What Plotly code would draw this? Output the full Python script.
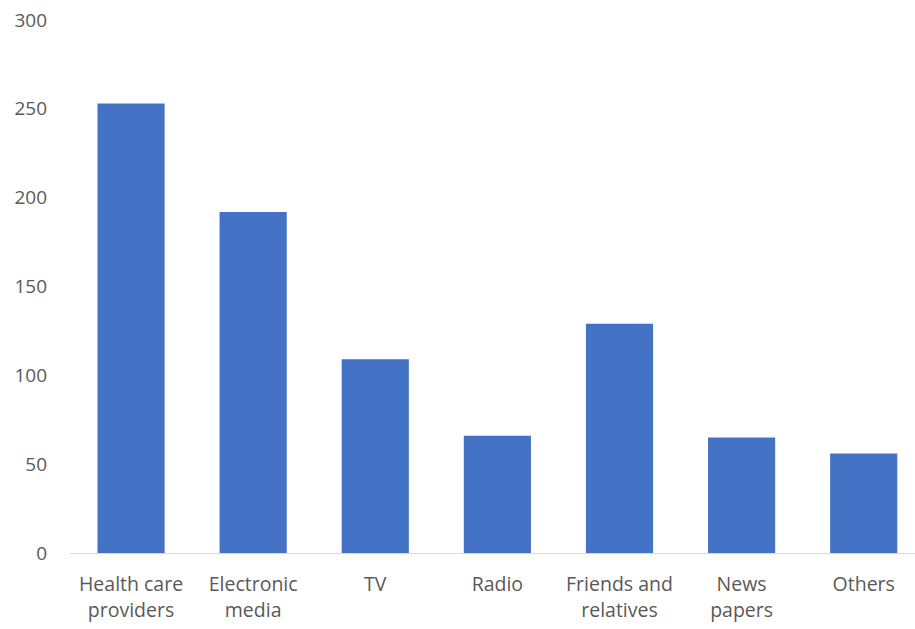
import plotly.graph_objects as go

categories = ["Health care<br>providers", "Electronic<br>media", "TV", "Radio",
              "Friends and<br>relatives", "News<br>papers", "Others"]
values = [253, 192, 109, 66, 129, 65, 56]
y_ticks = [0, 50, 100, 150, 200, 250, 300]

fig = go.Figure(go.Bar(x=categories, y=values, marker=dict(color="#4472C4", line=dict(width=0))))

fig.update_layout(
    width=915, height=629,
    margin=dict(l=70, r=0, t=20, b=76),
    plot_bgcolor="white", paper_bgcolor="white",
    bargap=0.45,
    font=dict(family="Open Sans", size=19, color="#595959"),
    showlegend=False,
)
fig.update_xaxes(range=[-0.5, 6.42], showgrid=False, showline=True, linecolor="#D9D9D9",
                 linewidth=1, ticks="", ticklabelstandoff=14, tickangle=0,
                 tickfont=dict(size=19.5))
fig.update_yaxes(range=[0, 300], tickvals=y_ticks, showgrid=False, zeroline=False,
                 showline=False, ticks="", ticklabelstandoff=22, tickfont=dict(size=19))

fig.write_html("out.html")
